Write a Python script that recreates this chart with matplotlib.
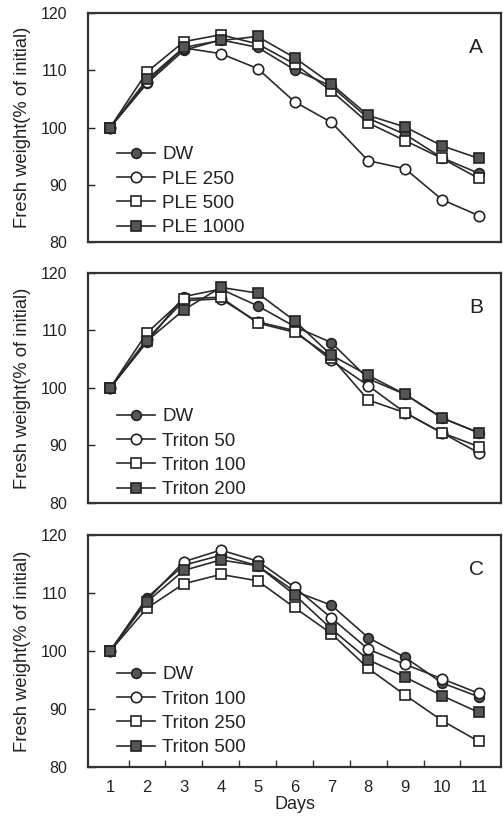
import matplotlib
matplotlib.use("Agg")
import matplotlib.pyplot as plt
from matplotlib.ticker import FixedLocator, NullFormatter

plt.rcParams['font.family'] = ['Liberation Sans', 'DejaVu Sans']

days = list(range(1, 12))

# Panel A
labels_a = ["DW", "PLE 250", "PLE 500", "PLE 1000"]
a_dw      = [100, 107.7, 113.5, 115.3, 114.0, 110.1, 107.2, 101.6, 98.8, 94.7, 92.0]
a_ple250  = [100, 108.0, 113.9, 112.9, 110.3, 104.5, 100.9, 94.2, 92.8, 87.4, 84.6]
a_ple500  = [100, 109.7, 115.0, 116.2, 114.6, 111.1, 106.4, 100.8, 97.7, 94.6, 91.1]
a_ple1000 = [100, 108.4, 114.0, 115.2, 115.9, 112.2, 107.6, 102.1, 100.1, 96.8, 94.6]

# Panel B
labels_b = ["DW", "Triton 50", "Triton 100", "Triton 200"]
b_dw   = [100, 108.0, 115.9, 117.2, 114.3, 110.7, 107.9, 101.6, 98.9, 94.8, 92.2]
b_t50  = [100, 108.5, 115.2, 115.5, 111.5, 110.0, 104.8, 100.4, 95.7, 92.2, 88.7]
b_t100 = [100, 109.6, 115.5, 115.8, 111.3, 109.7, 105.3, 97.9, 95.7, 92.2, 89.8]
b_t200 = [100, 108.2, 113.6, 117.5, 116.5, 111.7, 105.7, 102.2, 98.9, 94.8, 92.2]

# Panel C
labels_c = ["DW", "Triton 100", "Triton 250", "Triton 500"]
c_dw   = [100, 109.2, 114.8, 116.5, 114.7, 110.3, 107.9, 102.3, 98.9, 94.5, 92.1]
c_t100 = [100, 108.8, 115.4, 117.4, 115.5, 111.0, 105.7, 100.3, 97.7, 95.2, 92.7]
c_t250 = [100, 107.4, 111.6, 113.2, 112.1, 107.5, 103.0, 97.0, 92.4, 88.0, 84.4]
c_t500 = [100, 108.5, 113.9, 115.7, 114.7, 109.7, 103.8, 98.5, 95.5, 92.3, 89.4]

yticks = [80, 90, 100, 110, 120]
panel_letters = ["A", "B", "C"]

styles = [
    dict(marker='o', markerfacecolor='#555555', markeredgecolor='#222222', markersize=7),
    dict(marker='o', markerfacecolor='white', markeredgecolor='#222222', markersize=7.5),
    dict(marker='s', markerfacecolor='white', markeredgecolor='#222222', markersize=7.5),
    dict(marker='s', markerfacecolor='#555555', markeredgecolor='#222222', markersize=7),
]

fig = plt.figure(figsize=(5.03, 8.17), dpi=100)
W, H = 503.0, 817.0
left_px, right_px = 88, 501
boxes = [(13, 242), (273, 503), (535, 767)]
legend_y = [-0.04, -0.044, -0.018]

panels = [
    (labels_a, [a_dw, a_ple250, a_ple500, a_ple1000]),
    (labels_b, [b_dw, b_t50, b_t100, b_t200]),
    (labels_c, [c_dw, c_t100, c_t250, c_t500]),
]

for i, ((labels, series), (top, bot)) in enumerate(zip(panels, boxes)):
    ax = fig.add_axes([left_px / W, 1 - bot / H, (right_px - left_px) / W, (bot - top) / H])
    for lab, vals, st in zip(labels, series, styles):
        ax.plot(days, vals, color='#2a2a2a', linewidth=1.2, markeredgewidth=1.2,
                label=lab, **st)
    ax.set_xlim(0.4, 11.6)
    ax.set_ylim(80, 120)
    ax.set_yticks(yticks)
    ax.tick_params(axis='y', direction='in', length=5, width=1, labelsize=11.5,
                   pad=15, colors='#222222')
    for s in ax.spines.values():
        s.set_linewidth(1.6)
        s.set_color('#333333')
    ax.set_ylabel("Fresh weight(% of initial)", fontsize=13.2, labelpad=7, color='#222222')
    ax.text(0.94, 0.85, panel_letters[i], transform=ax.transAxes, fontsize=15,
            ha='center', va='center', color='#222222')
    leg = ax.legend(loc='lower left', bbox_to_anchor=(0.035, legend_y[i]), frameon=False,
                    fontsize=13.5, handlelength=2.0, handletextpad=0.4,
                    labelspacing=0.38, borderpad=0.3)
    for t in leg.get_texts():
        t.set_color('#222222')
    if i < 2:
        ax.set_xticks([])
    else:
        ax.set_xticks(days)
        ax.set_xticklabels([str(d) for d in days])
        ax.xaxis.set_minor_locator(FixedLocator([d + 0.5 for d in days[:-1]]))
        ax.xaxis.set_minor_formatter(NullFormatter())
        ax.tick_params(axis='x', which='major', length=0, labelsize=12, pad=9,
                       colors='#222222')
        ax.tick_params(axis='x', which='minor', direction='in', length=5, width=1,
                       colors='#333333')
        ax.set_xlabel("Days", fontsize=13, labelpad=1, color='#222222')

fig.savefig("out.png", dpi=100)
